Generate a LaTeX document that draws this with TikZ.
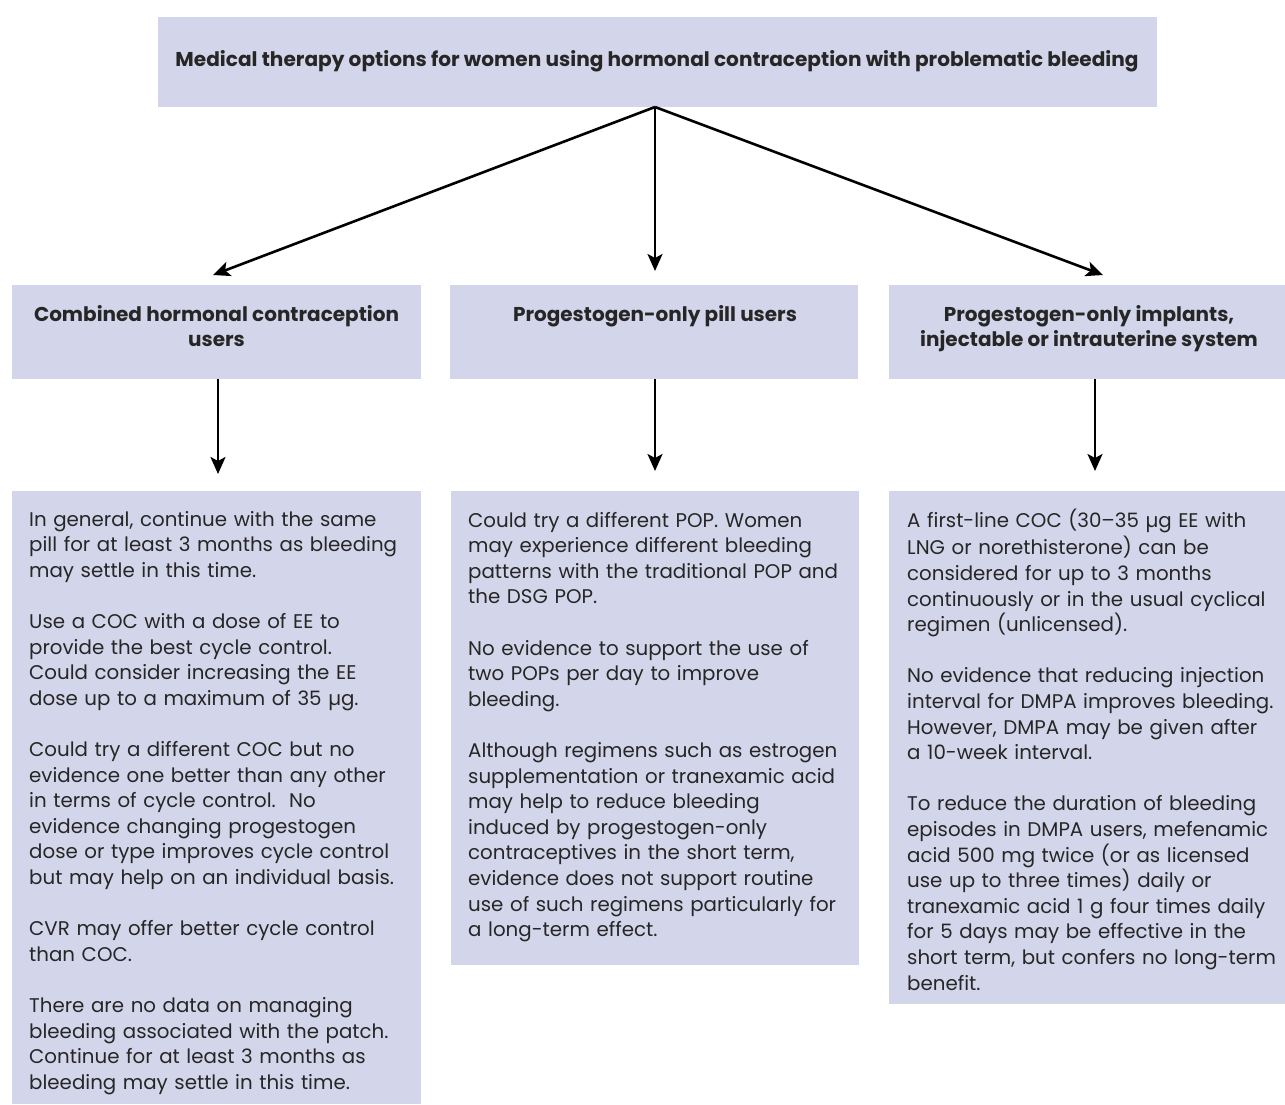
\documentclass[tikz,border=0pt]{standalone}
\usepackage{fontspec}
\setmainfont{Poppins}
\usetikzlibrary{arrows.meta,calc}
\definecolor{boxc}{HTML}{D3D5EA}
\definecolor{txt}{HTML}{262626}
\begin{document}
\begin{tikzpicture}[x=1pt,y=-1pt,
  box/.style={fill=boxc, inner sep=0pt, anchor=north west},
  bodytxt/.style={font=\fontsize{19.8}{25.6}\selectfont, text=txt, align=left, anchor=north west, inner sep=0pt, text width=440pt},
  headtxt/.style={font=\fontsize{20}{25.6}\selectfont\bfseries, text=txt, align=center, anchor=north, inner sep=0pt},
  arr/.style={line width=2.6pt, draw=black, -{Stealth[length=17pt,width=15pt,inset=4pt]}}]
\useasboundingbox (0,0) rectangle (1285,1104);
\fill[white] (0,0) rectangle (1285,1104);
% boxes
\node[box, minimum width=999pt, minimum height=90pt] (top) at (158,17) {};
\node[box, minimum width=409pt, minimum height=94pt] (h1) at (12,285) {};
\node[box, minimum width=408pt, minimum height=94pt] (h2) at (450,285) {};
\node[box, minimum width=396pt, minimum height=94pt] (h3) at (889,285) {};
\node[box, minimum width=409pt, minimum height=613pt] (b1) at (12,491) {};
\node[box, minimum width=408pt, minimum height=474pt] (b2) at (451,491) {};
\node[box, minimum width=396pt, minimum height=513pt] (b3) at (889,491) {};
% title
\node[text=txt, anchor=base, inner sep=0pt] (ttl) at (657,66) {\resizebox{963pt}{\height}{\fontsize{20}{22}\selectfont\bfseries Medical therapy options for women using hormonal contraception with problematic bleeding}};
% headers
\node[headtxt] (ht1) at (216.5,303) {\strut Combined hormonal contraception\\users};
\node[headtxt] (ht2) at (655,303) {\strut Progestogen-only pill users};
\node[headtxt] (ht3) at (1089,303) {\strut Progestogen-only implants,\\injectable or intrauterine system};
% body texts
\node[bodytxt] (bt1) at (29,508) {\strut In general, continue with the same\\
pill for at least 3 months as bleeding\\
may settle in this time.\\[25.6pt]
Use a COC with a dose of EE to\\
provide the best cycle control.\\
Could consider increasing the EE\\
dose up to a maximum of 35 µg.\\[25.6pt]
Could try a different COC but no\\
evidence one better than any other\\
in terms of cycle control.\ \ No\\
evidence changing progestogen\\
dose or type improves cycle control\\
but may help on an individual basis.\\[25.6pt]
CVR may offer better cycle control\\
than COC.\\[25.6pt]
There are no data on managing\\
bleeding associated with the patch.\\
Continue for at least 3 months as\\
bleeding may settle in this time.};
\node[bodytxt] (bt2) at (468,509) {\strut Could try a different POP. Women\\
may experience different bleeding\\
patterns with the traditional POP and\\
the DSG POP.\\[25.6pt]
No evidence to support the use of\\
two POPs per day to improve\\
bleeding.\\[25.6pt]
Although regimens such as estrogen\\
supplementation or tranexamic acid\\
may help to reduce bleeding\\
induced by progestogen-only\\
contraceptives in the short term,\\
evidence does not support routine\\
use of such regimens particularly for\\
a long-term effect.};
\node[bodytxt] (bt3) at (907,509) {\strut A first-line COC (30–35 µg EE with\\
LNG or norethisterone) can be\\
considered for up to 3 months\\
continuously or in the usual cyclical\\
regimen (unlicensed).\\[25.6pt]
No evidence that reducing injection\\
interval for DMPA improves bleeding.\\
However, DMPA may be given after\\
a 10-week interval.\\[25.6pt]
To reduce the duration of bleeding\\
episodes in DMPA users, mefenamic\\
acid 500 mg twice (or as licensed\\
use up to three times) daily or\\
tranexamic acid 1 g four times daily\\
for 5 days may be effective in the\\
short term, but confers no long-term\\
benefit.};
% connectors
\coordinate (src) at (655,107);
\coordinate (e1) at (213,275);
\coordinate (e2) at (655,271);
\coordinate (e3) at (1103,275);
\coordinate (v1) at (218,474);
\coordinate (v2) at (655,471);
\coordinate (v3) at (1095,471);
\draw[arr] (src) -- (e1);
\draw[arr] (src) -- (e2);
\draw[arr] (src) -- (e3);
\draw[arr] (h1.south -| v1) -- (v1);
\draw[arr] (h2.south -| v2) -- (v2);
\draw[arr] (h3.south -| v3) -- (v3);
\end{tikzpicture}
\end{document}
